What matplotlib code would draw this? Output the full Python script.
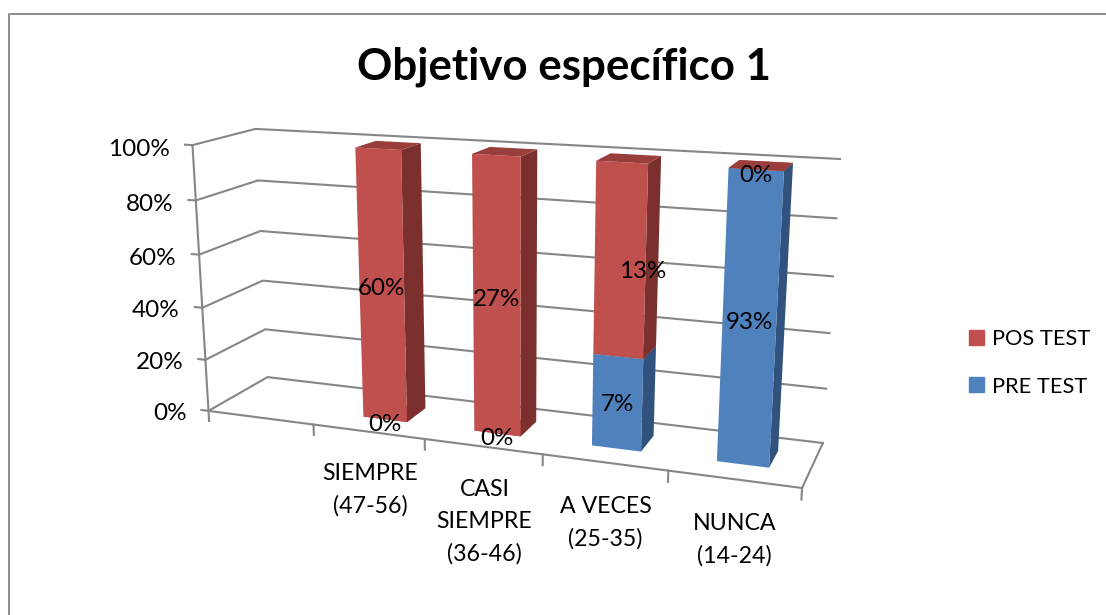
import numpy as np
import matplotlib
matplotlib.use("Agg")
import matplotlib.pyplot as plt
from matplotlib.lines import Line2D
from matplotlib.patches import Patch

plt.rcParams['font.family'] = ['Lato', 'DejaVu Sans']

categories = ['', 'SIEMPRE\n(47-56)', 'CASI\nSIEMPRE\n(36-46)', 'A VECES\n(25-35)', 'NUNCA\n(14-24)']
pre_test = [0, 0, 0, 6.67, 93.33]
pos_test = [0, 60, 26.67, 13.33, 0]
value_ticks = [0, 20, 40, 60, 80, 100]

W, H = 1106, 615
GRID = '#868686'
BAR_W = 0.40
Y0, Y1 = 0.32, 0.70

# camera: solve the projection from where the plot box corners sit in the picture
box = [(0, 0, 0), (5, 0, 0), (5, 1, 0), (0, 1, 0), (0, 0, 100), (0, 1, 100), (5, 1, 100)]
pix = [(209, 411), (802, 488), (823, 443), (267, 377), (192, 145), (256, 129), (840, 159)]
A, b = [], []
for (x, y, z), (u, v) in zip(box, pix):
    A.append([x, y, z, 1, 0, 0, 0, 0, -u*x, -u*y, -u*z])
    A.append([0, 0, 0, 0, x, y, z, 1, -v*x, -v*y, -v*z])
    b += [u, v]
p = np.linalg.lstsq(np.array(A, float), np.array(b, float), rcond=None)[0]
M_pix = np.array([p[:4], p[4:8], [-1, 5, -0.05, 0], [p[8], p[9], p[10], 1]])
# pixels to the -1..1 range, mplot3d masks line points outside of it
to_unit = np.array([[2/W, 0, 0, -1], [0, -2/W, 0, H/W], [0, 0, 1, 0], [0, 0, 0, 1]])
M = to_unit @ M_pix

fig = plt.figure(figsize=(W/100, H/100), dpi=100)
# 3d axes are always square, so make it as wide as the figure and let it hang over
ax = fig.add_axes([0, -(W-H)/2/H, 1, W/H], projection='3d')
ax.set_axis_off()
ax.patch.set_visible(False)
ax.computed_zorder = False
ax.set_proj_type('ortho')
ax.get_proj = lambda: M
ax.viewLim.intervalx = (-1, 1)
ax.viewLim.intervaly = (-1, 1)


def value_label(x, z, val):
    # zero labels sit a little lower than the others in the original
    off = -2 if val == 0 else -0.5
    ax.text(x, Y0, z+off, f'{val:.0f}%', ha='center', va='center', fontsize=17.4, zorder=5)


# walls and floor
for v in value_ticks:
    ax.plot([0, 0, 5], [0, 1, 1], [v, v, v], color=GRID, lw=1.5, zorder=1)
    ax.plot([-0.07, 0], [0, 0], [v, v], color=GRID, lw=1.5, zorder=1)
    ax.text(-0.22, 0, v-2, f'{v}%', ha='right', va='center', fontsize=17.5, zorder=5)
ax.plot([0, 0], [0, 0], [0, 100], color=GRID, lw=1.5, zorder=1)
ax.plot([0, 5, 5], [0, 0, 1], [0, 0, 0], color=GRID, lw=1.5, zorder=1)
for i in range(6):
    ax.plot([i, i], [0, 0], [0, -4], color=GRID, lw=1.5, zorder=1)

red = ['none', '#9A3E3B', '#C0504D', 'none', 'none', '#7B302E']
blue = ['none', '#9A3E3B', '#4F81BD', 'none', 'none', '#30527C']

for i, lab in enumerate(categories):
    xc = i + 0.5
    if lab:
        ax.text(xc+0.012, 0, -12, lab, ha='center', va='top', fontsize=16.7, linespacing=1.63, zorder=5)
    total = pre_test[i] + pos_test[i]
    if total == 0:
        continue
    pre_h = pre_test[i] / total * 100
    pos_h = pos_test[i] / total * 100
    ax.bar3d(xc-BAR_W/2, Y0, 0, BAR_W, Y1-Y0, pre_h, color=blue, shade=False, linewidth=0, zorder=2)
    ax.bar3d(xc-BAR_W/2, Y0, pre_h, BAR_W, Y1-Y0, pos_h, color=red, shade=False, linewidth=0, zorder=3)
    value_label(xc, pre_h/2, pre_test[i])
    # Excel pushed the 13% label off to the side of the bar
    if round(pos_test[i]) == 13:
        value_label(xc+0.18, pre_h+pos_h/2-2.5, pos_test[i])
    else:
        value_label(xc, pre_h+pos_h/2, pos_test[i])

# the hidden 3d axes still carry tick labels, drop them
ax.set_xticks([])
ax.set_yticks([])
ax.set_zticks([])

fig.text(564/W, 1-67/H, 'Objetivo específico 1', ha='center', va='center', fontsize=31.6, fontweight='bold')

handles = [Patch(color='#C0504D', label='POS TEST'), Patch(color='#4F81BD', label='PRE TEST')]
fig.legend(handles=handles, loc='center left', bbox_to_anchor=(969/W, 1-363/H), frameon=False,
           fontsize=15.7, handlelength=0.69, handleheight=0.69, handletextpad=0.35,
           labelspacing=1.24, borderpad=0, borderaxespad=0)

# chart border, only top and left are inside the crop
fig.add_artist(Line2D([9/W, 9/W, 1], [0, 1-14/H, 1-14/H], color='#8C8C8C', lw=1.4))

fig.savefig('out.png', dpi=100)
